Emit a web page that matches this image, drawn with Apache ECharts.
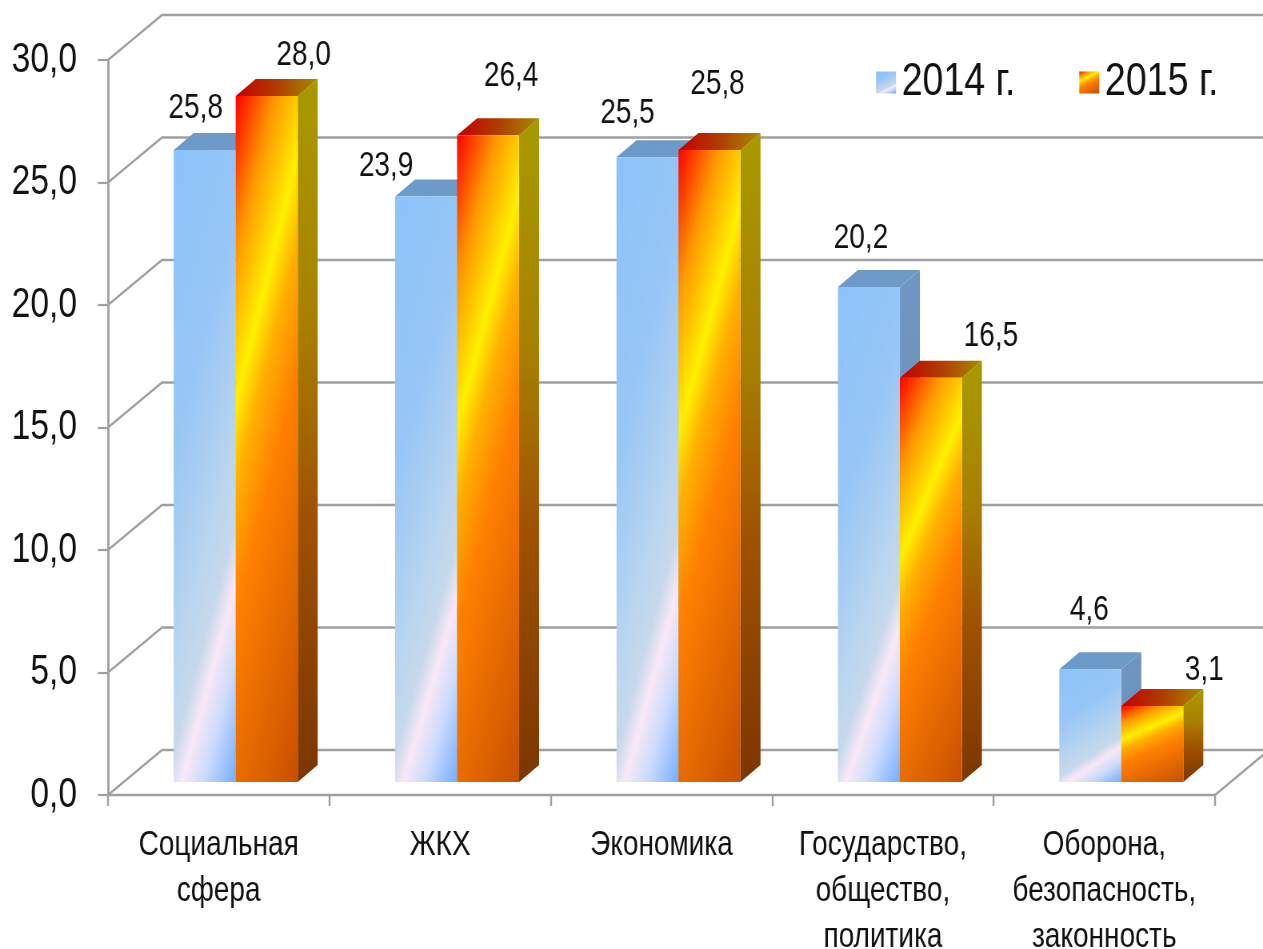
<!DOCTYPE html>
<html>
<head>
<meta charset="utf-8">
<style>
html,body{margin:0;padding:0;background:#fff;overflow:hidden;width:1263px;height:949px}
#c{width:1579px;height:949px;transform-origin:0 0;transform:scaleX(0.79987)}
</style>
<script src="https://cdn.jsdelivr.net/npm/echarts@6/dist/echarts.min.js"></script>
</head>
<body>
<div id="c"></div>
<script>
const categories = ['Социальная\nсфера', 'ЖКХ', 'Экономика', 'Государство,\nобщество,\nполитика', 'Оборона,\nбезопасность,\nзаконность'];
const values2014 = [25.8, 23.9, 25.5, 20.2, 4.6];
const values2015 = [28.0, 26.4, 25.8, 16.5, 3.1];
const yTicks = [0, 5, 10, 15, 20, 25, 30];
const seriesNames = ['2014 г.', '2015 г.'];

// The reference uses a condensed face; the drawing is laid out 1/SX wider and squeezed by CSS.
const SX = 0.79987;
const px = v => v / SX;

// hand-placed data label nudges, relative to the bar's front-top centre (screen pixels)
const labelNudge2014 = [[-9, -42], [-40, -30], [-20, -44], [-8, -49], [-1, -59]];
const labelNudge2015 = [[37, -41], [23, -59], [8, -66], [60, -41], [52, -36]];

const FONT = '"Liberation Sans",Arial,sans-serif';
const GRID = '#a0a0a0';
const WALL = [px(54), -45];     // depth of the chart box
const BAR_DEPTH = [px(20), -17];
const BAR_SHIFT = [px(17), -13]; // bars stand in the middle of the floor

const stops2014 = [[0, '#8cc3fb'], [0.35, '#98c6f6'], [0.62, '#bcd6ee'], [0.7, '#c6d9ec'], [0.77, '#f9e8f8'], [0.86, '#ccdcfb'], [1, '#74aeff']];
const stops2015 = [[0, '#ff0000'], [0.17, '#ff9800'], [0.33, '#fff000'], [0.42, '#ffb000'], [0.56, '#ff8000'], [1, '#c85000']];

function cs(a) { return a.map(s => ({ offset: s[0], color: s[1] })); }
// PowerPoint-style gradient: iso-lines scale with the box, corner to corner
function faceGradient(stops, w, h) {
  const a = 0.36;
  const t = (a + 1) / (a * a / (w * w) + 1 / (h * h));
  return { type: 'linear', x: 0, y: 0, x2: t * a / (w * w), y2: t / (h * h), colorStops: cs(stops) };
}
const top2014 = { type: 'linear', x: 0, y: 0, x2: 1, y2: 0, colorStops: cs([[0, '#6b9bcb'], [1, '#6f9ac6']]) };
const side2014 = { type: 'linear', x: 0, y: 0, x2: 0, y2: 1, colorStops: cs([[0, '#6f97c4'], [1, '#6b8dad']]) };
const top2015 = { type: 'linear', x: 0, y: 0, x2: 1, y2: 0.3, colorStops: cs([[0, '#c40000'], [0.5, '#b03c00'], [1, '#a88c00']]) };
const side2015 = { type: 'linear', x: 0, y: 0, x2: 0, y2: 1, colorStops: cs([[0, '#a89a00'], [0.35, '#a88000'], [0.62, '#a05200'], [1, '#7c3600']]) };

function barRender(side, stops, topFill, sideFill, nudges) {
  return function (params, api) {
    const cw = api.size([1, 0])[0];
    const bw = cw * 0.28;
    const idx = api.value(0), val = api.value(1);
    const base = api.coord([idx, 0]);
    const peak = api.coord([idx, val]);
    const x0 = base[0] + BAR_SHIFT[0] + (side < 0 ? -bw : 0);
    const x1 = x0 + bw;
    const yb = base[1] + BAR_SHIFT[1];
    const yt = peak[1] + BAR_SHIFT[1];
    const dx = BAR_DEPTH[0], dy = BAR_DEPTH[1];
    const nudge = nudges[idx];
    return {
      type: 'group',
      children: [
        { type: 'polygon', shape: { points: [[x1, yt], [x1 + dx, yt + dy], [x1 + dx, yb + dy], [x1, yb]] }, style: { fill: sideFill } },
        { type: 'polygon', shape: { points: [[x0, yt], [x0 + dx, yt + dy], [x1 + dx, yt + dy], [x1, yt]] }, style: { fill: topFill } },
        { type: 'rect', shape: { x: x0, y: yt, width: bw, height: yb - yt }, style: { fill: faceGradient(stops, bw, yb - yt) } },
        { type: 'text', z2: 50, style: {
            x: (x0 + x1) / 2 + px(nudge[0]), y: yt + nudge[1],
            text: val.toFixed(1).replace('.', ','),
            fill: '#111', font: '35px ' + FONT, align: 'center', verticalAlign: 'middle' } }
      ]
    };
  };
}

function wallRender(params, api) {
  const v = api.value(0);
  const p = api.coord([0, v]);
  const box = params.coordSys;
  const left = box.x, right = box.x + box.width;
  const pts = [[left, p[1]], [left + WALL[0], p[1] + WALL[1]], [right + WALL[0], p[1] + WALL[1]]];
  const kids = [{ type: 'polyline', shape: { points: pts }, style: { stroke: GRID, lineWidth: 2.4, fill: 'none' } }];
  if (v === 0) {
    kids.push({ type: 'line', shape: { x1: right, y1: p[1], x2: right + WALL[0], y2: p[1] + WALL[1] }, style: { stroke: GRID, lineWidth: 2.4 } });
  }
  return { type: 'group', children: kids };
}

const chart = echarts.init(document.getElementById('c'), null, { renderer: 'canvas' });
chart.setOption({
  animation: false,
  backgroundColor: '#fff',
  grid: { left: px(108), right: px(48), top: 60, bottom: 154, outerBoundsMode: 'none' },
  legend: {
    data: seriesNames, left: px(872), top: 54, orient: 'horizontal', icon: 'rect',
    itemWidth: px(20), itemHeight: 22, itemGap: px(64),
    selectedMode: false,
    textStyle: { fontFamily: FONT, fontSize: 47, color: '#111', padding: [0, 0, 0, 2] }
  },
  xAxis: {
    type: 'category', data: categories, boundaryGap: true,
    axisLine: { show: true, lineStyle: { color: GRID, width: 2.4 } },
    axisTick: { show: true, length: 11, alignWithLabel: false, lineStyle: { color: GRID, width: 2.4 } },
    axisLabel: { interval: 0, margin: 27, fontFamily: FONT, fontSize: 35, lineHeight: 46, color: '#111' },
    splitLine: { show: false }
  },
  yAxis: {
    type: 'value', min: yTicks[0], max: yTicks[yTicks.length - 1], interval: 5,
    axisLine: { show: true, lineStyle: { color: GRID, width: 2.8 } },
    axisTick: { show: true, length: px(10), lineStyle: { color: GRID, width: 2.2 } },
    axisLabel: { margin: px(31), fontFamily: FONT, fontSize: 42, color: '#111', padding: [5, 0, 0, 0], formatter: v => v.toFixed(1).replace('.', ',') },
    splitLine: { show: false }
  },
  series: [
    { type: 'custom', name: 'walls', silent: true, z: 1, clip: false, coordinateSystem: 'cartesian2d',
      renderItem: wallRender, data: yTicks.map(v => [v]), encode: { y: 0 } },
    { type: 'custom', name: seriesNames[0], silent: true, z: 2, clip: false,
      itemStyle: { color: faceGradient(stops2014, 1, 1) },
      renderItem: barRender(-1, stops2014, top2014, side2014, labelNudge2014),
      data: values2014.map((v, i) => [i, v]), encode: { x: 0, y: 1 } },
    { type: 'custom', name: seriesNames[1], silent: true, z: 3, clip: false,
      itemStyle: { color: faceGradient(stops2015, 1, 1) },
      renderItem: barRender(1, stops2015, top2015, side2015, labelNudge2015),
      data: values2015.map((v, i) => [i, v]), encode: { x: 0, y: 1 } }
  ]
});
</script>
</body>
</html>
